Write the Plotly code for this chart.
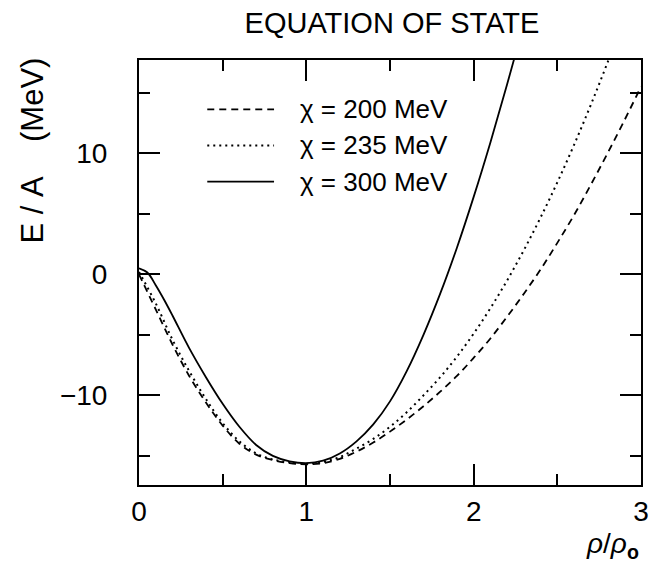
import plotly.graph_objects as go

# Energy per nucleon E/A (MeV) versus density rho/rho0 for three compressibilities
rho_300 = [0.0, 0.05, 0.1, 0.15, 0.2, 0.3, 0.4, 0.5, 0.6, 0.7, 0.8, 0.9, 1.0, 1.1, 1.2,
           1.3, 1.4, 1.5, 1.6, 1.7, 1.8, 1.9, 2.0, 2.1, 2.2, 2.3]
ea_300 = [0.5, 0.15, -0.9, -2.1, -3.4, -6.1, -8.5, -10.7, -12.6, -14.1, -15.0, -15.45,
          -15.6, -15.4, -14.8, -13.8, -12.4, -10.5, -8.0, -5.0, -1.6, 2.2, 6.4, 10.9,
          15.7, 20.7]

rho_235 = [0.0, 0.1, 0.2, 0.3, 0.4, 0.5, 0.6, 0.7, 0.8, 0.9, 1.0, 1.1, 1.2, 1.3, 1.4,
           1.5, 1.6, 1.7, 1.8, 1.9, 2.0, 2.1, 2.2, 2.3, 2.4, 2.5, 2.6, 2.7, 2.8, 2.9]
ea_235 = [0.2, -2.4, -5.4, -8.0, -10.3, -12.3, -13.8, -14.8, -15.3, -15.55, -15.65,
          -15.5, -15.1, -14.4, -13.6, -12.6, -11.4, -10.0, -8.5, -6.8, -4.9, -2.8,
          -0.5, 2.0, 4.7, 7.6, 10.7, 14.0, 17.5, 21.2]

rho_200 = [0.0, 0.1, 0.2, 0.3, 0.4, 0.5, 0.6, 0.7, 0.8, 0.9, 1.0, 1.1, 1.2, 1.3, 1.4,
           1.5, 1.6, 1.7, 1.8, 1.9, 2.0, 2.1, 2.2, 2.3, 2.4, 2.5, 2.6, 2.7, 2.8, 2.9, 3.0]
ea_200 = [0.0, -2.9, -5.8, -8.4, -10.6, -12.5, -14.0, -14.9, -15.35, -15.6, -15.7,
          -15.6, -15.25, -14.65, -13.9, -13.0, -12.0, -10.9, -9.7, -8.4, -6.9, -5.3,
          -3.5, -1.6, 0.4, 2.6, 4.9, 7.4, 10.0, 12.7, 15.5]

legend_labels = ["χ = 200 MeV", "χ = 235 MeV", "χ = 300 MeV"]
x_ticks = [0, 1, 2, 3]
y_ticks = [-10, 0, 10]

FONT = "Liberation Sans, Arial, sans-serif"
DASHES = ["7px,5px", "2px,4px", "solid"]
WIDTHS = [1.8, 2.0, 1.8]

fig = go.Figure()
for xs, ys, dash, lw, name in [(rho_200, ea_200, DASHES[0], WIDTHS[0], legend_labels[0]),
                               (rho_235, ea_235, DASHES[1], WIDTHS[1], legend_labels[1]),
                               (rho_300, ea_300, DASHES[2], WIDTHS[2], legend_labels[2])]:
    fig.add_trace(go.Scatter(x=xs, y=ys, mode="lines", name=name, showlegend=False,
                             line=dict(color="black", width=lw, dash=dash,
                                       shape="spline", smoothing=1.0)))

# hand-built legend in the upper left of the frame
row_y = [0.884, 0.799, 0.714]
for label, dash, lw, yy in zip(legend_labels, DASHES, WIDTHS, row_y):
    fig.add_shape(type="line", xref="paper", yref="paper", x0=0.136, x1=0.269,
                  y0=yy, y1=yy, line=dict(color="black", width=lw, dash=dash))
    fig.add_annotation(xref="paper", yref="paper", x=0.317, y=yy, text=label,
                       showarrow=False, xanchor="left", yanchor="middle",
                       font=dict(family=FONT, size=26, color="black"))

# axis captions
fig.add_annotation(xref="paper", yref="paper", x=-0.213, y=0.787,
                   text="E\u00a0/\u00a0A\u00a0\u00a0\u00a0\u00a0(MeV)", textangle=-90,
                   showarrow=False, xanchor="center", yanchor="middle",
                   font=dict(family=FONT, size=31, color="black"))
fig.add_annotation(xref="paper", yref="paper", x=1.0, y=-0.143,
                   text="<i>ρ</i>/<i>ρ</i><sub><b>o</b></sub>",
                   showarrow=False, xanchor="right", yanchor="middle",
                   font=dict(family=FONT, size=28, color="black"))

axis_common = dict(showline=True, linecolor="black", linewidth=2, mirror="allticks",
                   ticks="inside", ticklen=21, tickwidth=1.5, tickcolor="black",
                   showgrid=False, zeroline=False, automargin=False,
                   tickfont=dict(family=FONT, size=28, color="black"))

fig.update_xaxes(range=[0, 3], tickvals=x_ticks, ticktext=[str(v) for v in x_ticks],
                 minor=dict(ticks="inside", ticklen=11, tickwidth=1.5, dtick=0.5,
                            tickcolor="black", showgrid=False),
                 ticklabelstandoff=0, **axis_common)
fig.update_yaxes(range=[-17.41, 17.71], tickvals=y_ticks,
                 ticktext=["\u221210", "0", "10"],
                 minor=dict(ticks="inside", ticklen=11, tickwidth=1.5, dtick=5,
                            tick0=0, tickcolor="black", showgrid=False),
                 ticklabelstandoff=24, **axis_common)

fig.update_layout(
    width=649, height=567,
    margin=dict(l=139, r=8, t=60, b=82, autoexpand=False),
    paper_bgcolor="white", plot_bgcolor="white",
    title=dict(text="EQUATION OF STATE", x=0.604, xanchor="center", y=0.96,
               yanchor="middle", font=dict(family=FONT, size=29, color="black")),
)

fig.write_html("out.html")
